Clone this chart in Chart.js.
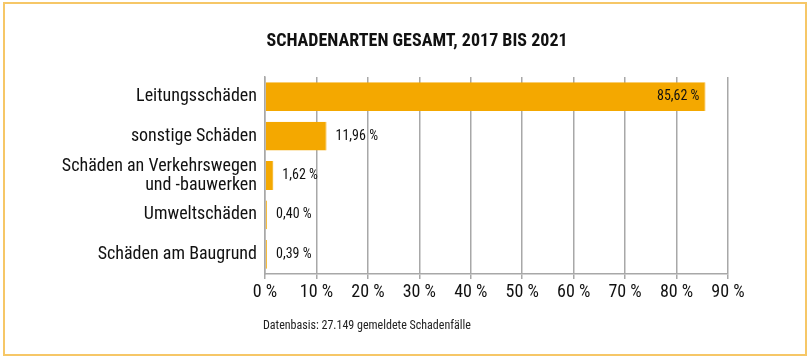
<!DOCTYPE html>
<html>
<head>
<meta charset="utf-8">
<script src="https://cdn.jsdelivr.net/npm/chart.js@4"></script>
<style>
html,body{margin:0;padding:0;background:#fff;}
#wrap{position:relative;width:810px;height:358px;}
#frame{position:absolute;left:3px;top:2px;width:800px;height:350px;border:2px solid #f6c767;pointer-events:none;}
</style>
</head>
<body>
<div id="wrap">
<canvas id="c" width="810" height="358"></canvas>
<div id="frame"></div>
</div>
<script>
// data
const categories=[["Leitungsschäden"],["sonstige Schäden"],["Schäden an Verkehrswegen","und -bauwerken"],["Umweltschäden"],["Schäden am Baugrund"]];
const shares=[85.62,11.96,1.62,0.40,0.39];
const xTicks=[0,10,20,30,40,50,60,70,80,90];
const title="SCHADENARTEN GESAMT, 2017 BIS 2021";
const note="Datenbasis: 27.149 gemeldete Schadenfälle";

const FONT="'Roboto Condensed','Liberation Sans',sans-serif";
const fmt=v=>v.toFixed(2).replace(".",",")+" %";

const textPlugin={
id:"texts",
afterDraw(chart){
const ctx=chart.ctx;
ctx.save();
ctx.fillStyle="#111";
ctx.font="bold 18px "+FONT;
ctx.textAlign="center";
ctx.textBaseline="middle";
ctx.fillText(title,417,41);
ctx.font="12px "+FONT;
ctx.textAlign="left";
ctx.fillStyle="#222";
ctx.fillText(note,263,326);
// category labels, right aligned line by line
const y=chart.scales.y;
ctx.font="18px "+FONT;
ctx.fillStyle="#111";
ctx.textAlign="right";
chart.data.labels.forEach((lab,i)=>{
const cy=y.getPixelForTick(i);
const lh=19;
const y0=cy-(lab.length-1)*lh/2;
lab.forEach((line,j)=>ctx.fillText(line,257,y0+j*lh));
});
ctx.restore();
}
};

const valuePlugin={
id:"values",
afterDatasetsDraw(chart){
const ctx=chart.ctx;
const meta=chart.getDatasetMeta(0);
ctx.save();
ctx.font="14px "+FONT;
ctx.fillStyle="#111";
ctx.textBaseline="middle";
meta.data.forEach((bar,i)=>{
const v=shares[i];
if(v>50){
ctx.textAlign="right";
ctx.fillText(fmt(v),bar.x-6,bar.y);
}else{
ctx.textAlign="left";
ctx.fillText(fmt(v),bar.x+9,bar.y);
}
});
ctx.restore();
}
};

new Chart(document.getElementById("c"),{
type:"bar",
data:{
labels:categories,
datasets:[{data:shares,backgroundColor:"#f4a800",borderColor:"#f4a800",borderWidth:{left:0,right:1,top:0,bottom:0},barPercentage:0.73,categoryPercentage:1}]
},
options:{
indexAxis:"y",
responsive:false,
animation:false,
layout:{padding:{top:77,right:82,left:0,bottom:0}},
plugins:{legend:{display:false},tooltip:{enabled:false},title:{display:false}},
scales:{
x:{
min:0,max:90,
afterBuildTicks(s){s.ticks=xTicks.map(v=>({value:v}));},
grid:{color:"#a8a8a8",lineWidth:1.5,tickLength:5,drawOnChartArea:true},
border:{color:"#a8a8a8",width:1.5},
ticks:{font:{family:FONT,size:18},color:"#111",padding:3,maxRotation:0,callback:v=>v+" %"},
afterFit(s){s.height=84;}
},
y:{
grid:{display:false},
border:{color:"#a8a8a8",width:1.5},
ticks:{display:false,autoSkip:false},
afterFit(s){s.width=265;}
}
}
},
plugins:[textPlugin,valuePlugin]
});
</script>
</body>
</html>
